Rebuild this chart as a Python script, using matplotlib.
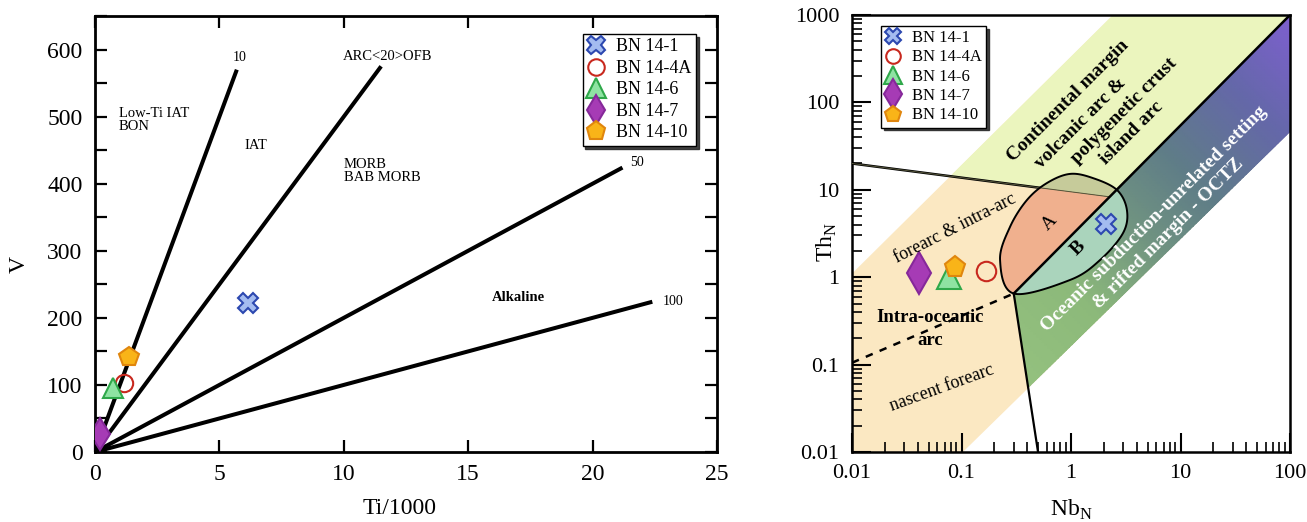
import numpy as np
import matplotlib
matplotlib.use('Agg')
import matplotlib.pyplot as plt
from matplotlib.patches import Polygon
from matplotlib.colors import LinearSegmentedColormap, Normalize
from matplotlib.ticker import LogLocator, NullFormatter, MultipleLocator

plt.rcParams['font.family'] = ['Liberation Serif', 'DejaVu Serif']
plt.rcParams['mathtext.fontset'] = 'custom'
plt.rcParams['mathtext.rm'] = 'Liberation Serif'

# ---------------- data ----------------
samples = ['BN 14-1', 'BN 14-4A', 'BN 14-6', 'BN 14-7', 'BN 14-10']
ti_1000 = [6.15, 1.15, 0.72, 0.20, 1.35]
v_ppm = [222, 103, 96, 27, 142]
nb_n = [2.09, 0.168, 0.077, 0.041, 0.087]
th_n = [4.06, 1.17, 1.00, 1.12, 1.31]

# Ti/V ratio reference lines (Shervais diagram)
ratio_values = [10, 20, 50, 100]
ratio_end_ti = [5.7, 11.5, 21.2, 22.4]
ratio_labels = ['10', 'ARC<20>OFB', '50', '100']

# Th_N - Nb_N field boundaries (Nb_N, Th_N)
band_upper = [(0.01, 1.1), (2.42, 1000)]
band_lower = [(0.103, 0.01), (100, 46)]
diag_line = [(0.3, 0.65), (100, 1000)]
arc_line = [(0.01, 20), (2.27, 8.3)]
vert_line = [(0.3, 0.65), (0.5, 0.01)]
dash_line = [(0.01, 0.105), (0.3, 0.65)]
ellipse_nb = [0.30, 0.225, 0.277, 0.396, 0.604, 0.98, 1.59, 2.63, 3.24, 2.99, 1.84, 0.98]
ellipse_th = [0.65, 1.57, 3.75, 7.64, 11.97, 15.2, 13.6, 9.95, 5.87, 3.21, 1.57, 0.93]

# ---------------- styles ----------------
styles = [
    dict(marker='X', mfc='#a4bcf0', mec='#2c48b0'),
    dict(marker='o', mfc='none', mec='#c8281e'),
    dict(marker='^', mfc='#8ee3a2', mec='#2fa84a'),
    dict(marker='d', mfc='#a63bb5', mec='#86289a'),
    dict(marker='p', mfc='#f9b418', mec='#e0860e'),
]
ms_left = [14, 12.5, 15, 16.5, 14.5]
ms_right = [15, 14, 17, 21, 15.5]

fig = plt.figure(figsize=(13.07, 5.22), dpi=100)

# ================= left panel =================
ax1 = fig.add_axes([95/1307, 70/522, 622/1307, 436/522])
ax1.set_xlim(0, 25)
ax1.set_ylim(0, 650)
for r, xe in zip(ratio_values, ratio_end_ti):
    xs = np.array([0, xe])
    ax1.plot(xs, xs*1000/r, color='black', lw=2.9, solid_capstyle='butt', zorder=2)

for i, s in enumerate(samples):
    ax1.plot(ti_1000[i], v_ppm[i], ls='none', ms=ms_left[i], mew=1.5, label=s, zorder=5,
             **styles[i])

tkw = dict(fontsize=10.5, color='black')
ax1.text(0.95, 495, 'Low-Ti IAT\nBON', ha='left', va='center', linespacing=1.0, **tkw)
ax1.text(6.0, 457, 'IAT', ha='left', va='center', **tkw)
ax1.text(10.0, 419, 'MORB\nBAB MORB', ha='left', va='center', linespacing=1.0, **tkw)
ax1.text(17.0, 231, 'Alkaline', ha='center', va='center', fontweight='semibold', **tkw)
lab_pos = [(5.55, 588), (9.97, 590), (21.5, 431), (22.8, 225)]
for (x, y), t in zip(lab_pos, ratio_labels):
    ax1.text(x, y, t, ha='left', va='center', fontsize=10 if t != 'ARC<20>OFB' else 10.5)

ax1.set_xticks([0, 5, 10, 15, 20, 25])
ax1.set_yticks([0, 100, 200, 300, 400, 500, 600])
ax1.yaxis.set_minor_locator(MultipleLocator(50))
ax1.tick_params(which='both', direction='in', top=True, right=True, width=1.6,
                labelsize=17, length=8.5)
ax1.tick_params(axis='x', pad=9)
ax1.tick_params(axis='y', pad=9)
for sp in ax1.spines.values():
    sp.set_linewidth(2.0)
ax1.set_xlabel('Ti/1000', fontsize=17)
ax1.set_ylabel('V', fontsize=17)
ax1.xaxis.set_label_coords(0.49, -0.105)
ax1.yaxis.set_label_coords(-0.105, 0.43)
leg1 = ax1.legend(loc='upper right', bbox_to_anchor=(0.966, 0.959), borderaxespad=0,
                  fontsize=13, handlelength=1.0, handletextpad=0.6, labelspacing=0.25,
                  borderpad=0.25, fancybox=False, framealpha=1, edgecolor='black',
                  shadow={'color': '#222222', 'alpha': 0.85}, markerscale=0.95)
leg1.get_frame().set_linewidth(1.0)

# ================= right panel =================
ax2 = fig.add_axes([852/1307, 70/522, 438/1307, 437/522])
ax2.set_xscale('log')
ax2.set_yscale('log')
ax2.set_xlim(0.01, 100)
ax2.set_ylim(0.01, 1000)


def L(p):
    return np.log10(p[0]), np.log10(p[1])


def intersect(a, b):
    (x1, y1), (x2, y2) = L(a[0]), L(a[1])
    (x3, y3), (x4, y4) = L(b[0]), L(b[1])
    d = (x1 - x2)*(y3 - y4) - (y1 - y2)*(x3 - x4)
    t = ((x1 - x3)*(y3 - y4) - (y1 - y3)*(x3 - x4)) / d
    return (10**(x1 + t*(x2 - x1)), 10**(y1 + t*(y2 - y1)))


def at_x(line, xv):
    (x1, y1), (x2, y2) = L(line[0]), L(line[1])
    lx = np.log10(xv)
    return (xv, 10**(y1 + (lx - x1)*(y2 - y1)/(x2 - x1)))


p_au = intersect(arc_line, band_upper)
p_ad = intersect(arc_line, diag_line)
p_lv = intersect(band_lower, vert_line)
p_d0 = at_x(diag_line, 0.01)

band_poly = [(0.01, 0.01), band_upper[0], band_upper[1], (100, 1000), band_lower[1], band_lower[0]]
ax2.add_patch(Polygon(band_poly, closed=True, fc='#fbe8c2', ec='none', zorder=1))
green_poly = [p_au, band_upper[1], (100, 1000), p_ad]
ax2.add_patch(Polygon(green_poly, closed=True, fc='#ebf5be', ec='none', zorder=1.1))

ocean_poly = [(100, 1000), band_lower[1], p_lv, vert_line[0]]
ocean_patch = Polygon(ocean_poly, closed=True, fc='none', ec='none')
ax2.add_patch(ocean_patch)
lxg = np.linspace(-2, 2, 160)
lyg = np.linspace(-2, 3, 160)
LX, LY = np.meshgrid(lxg, lyg)
S = ((LX + 2)/4 + (LY + 2)/5)/2
cmap = LinearSegmentedColormap.from_list('ocz', [
    (0.0, '#95c27f'), (0.25, '#8cb97a'), (0.45, '#6f9281'), (0.6, '#5f7d87'),
    (0.8, '#6468a8'), (1.0, '#7d5fcf')])
mesh = ax2.pcolormesh(10**LX, 10**LY, S, cmap=cmap, norm=Normalize(0.25, 1.0),
                      shading='gouraud', zorder=1.2)
mesh.set_clip_path(ocean_patch)


def closed_smooth(xs, ys, n=24):
    pts = np.column_stack([xs, ys])
    N = len(pts)
    out = []
    t = np.linspace(0, 1, n, endpoint=False)[:, None]
    for i in range(N):
        p0, p1, p2, p3 = pts[(i-1) % N], pts[i], pts[(i+1) % N], pts[(i+2) % N]
        out.append(0.5*((2*p1) + (-p0 + p2)*t + (2*p0 - 5*p1 + 4*p2 - p3)*t**2
                        + (-p0 + 3*p1 - 3*p2 + p3)*t**3))
    return np.vstack(out)


ell = 10**closed_smooth(np.log10(ellipse_nb), np.log10(ellipse_th))

ax2.plot([arc_line[0][0], p_ad[0]], [arc_line[0][1], p_ad[1]], color='black', lw=1.8, zorder=2)

ell_clip = Polygon(ell, closed=True, fc='none', ec='none')
ax2.add_patch(ell_clip)
olive = Polygon([arc_line[0], (0.01, 1e4), (100, 1e4), (100, 1000), p_ad], closed=True,
                fc='#c6cb9a', ec='none', zorder=3)
salmon = Polygon([arc_line[0], p_ad, p_d0], closed=True, fc='#f0b08e', ec='none', zorder=3)
mint = Polygon([p_d0, (100, 1000), (100, 1e-4), (0.01, 1e-4)], closed=True,
               fc='#aad4bc', ec='none', zorder=3)
for p in (olive, salmon, mint):
    ax2.add_patch(p)
    p.set_clip_path(ell_clip)
ax2.plot([arc_line[0][0], p_ad[0]], [arc_line[0][1], p_ad[1]], color='#55553a', lw=0.7, zorder=3.5)
ax2.add_patch(Polygon(ell, closed=True, fc='none', ec='black', lw=1.4, zorder=5))

ax2.plot([diag_line[0][0], diag_line[1][0]], [diag_line[0][1], diag_line[1][1]],
         color='black', lw=1.8, zorder=5)
ax2.plot([vert_line[0][0], vert_line[1][0]], [vert_line[0][1], vert_line[1][1]],
         color='black', lw=1.6, zorder=5)
ax2.plot([dash_line[0][0], dash_line[1][0]], [dash_line[0][1], dash_line[1][1]],
         color='black', lw=1.8, ls=(0, (3, 3)), zorder=5)

for i, s in enumerate(samples):
    ax2.plot(nb_n[i], th_n[i], ls='none', ms=ms_right[i], mew=1.5, label=s, zorder=6,
             **styles[i])

bold = dict(fontweight='bold', rotation=45, rotation_mode='anchor', ha='center',
            va='center', fontsize=14, zorder=7)
ax2.text(0.94, 104, 'Continental margin', **bold)
ax2.text(1.23, 58, 'volcanic arc &', **bold)
ax2.text(3.05, 80, 'polygenetic crust', **bold)
ax2.text(3.6, 44.7, 'island arc', **bold)
ax2.text(6.7, 3.8, 'Oceanic subduction-unrelated setting\n& rifted margin - OCTZ',
         color='white', linespacing=1.25, **bold)
ax2.text(1.16, 2.16, 'B', **bold)
ax2.text(0.643, 4.17, 'A', rotation=45, rotation_mode='anchor', ha='center', va='center',
         fontsize=14, zorder=7)
ax2.text(0.087, 3.66, 'forearc & intra-arc', rotation=27, rotation_mode='anchor',
         ha='center', va='center', fontsize=13, zorder=7)
ax2.text(0.066, 0.054, 'nascent forearc', rotation=20, rotation_mode='anchor',
         ha='center', va='center', fontsize=13, zorder=7)
ax2.text(0.0515, 0.255, 'Intra-oceanic\narc', fontweight='bold', ha='center', va='center',
         fontsize=13.5, linespacing=1.4, zorder=7)

ax2.set_xticks([0.01, 0.1, 1, 10, 100], ['0.01', '0.1', '1', '10', '100'])
ax2.set_yticks([0.01, 0.1, 1, 10, 100, 1000], ['0.01', '0.1', '1', '10', '100', '1000'])
ax2.xaxis.set_minor_locator(LogLocator(base=10, subs=np.arange(2, 10)))
ax2.yaxis.set_minor_locator(LogLocator(base=10, subs=np.arange(2, 10)))
ax2.xaxis.set_minor_formatter(NullFormatter())
ax2.yaxis.set_minor_formatter(NullFormatter())
ax2.tick_params(which='major', direction='in', length=14, width=1.5, labelsize=16,
                top=False, right=False, pad=9)
ax2.tick_params(which='minor', direction='in', length=7, width=1.2, top=False, right=False)
for sp in ax2.spines.values():
    sp.set_linewidth(1.8)
ax2.set_xlabel(r'Nb$_\mathregular{N}$', fontsize=17)
ax2.set_ylabel(r'Th$_\mathregular{N}$', fontsize=17)
ax2.xaxis.set_label_coords(0.5, -0.105)
ax2.yaxis.set_label_coords(-0.03, 0.48)
leg2 = ax2.legend(loc='upper left', bbox_to_anchor=(0.066, 0.975), borderaxespad=0,
                  fontsize=12, handlelength=1.0, handletextpad=0.6, labelspacing=0.2,
                  borderpad=0.25, fancybox=False, framealpha=1, edgecolor='black',
                  shadow={'color': '#222222', 'alpha': 0.85}, markerscale=0.75)
leg2.get_frame().set_linewidth(1.0)
leg2.set_zorder(10)

fig.savefig('out.png', dpi=100)
